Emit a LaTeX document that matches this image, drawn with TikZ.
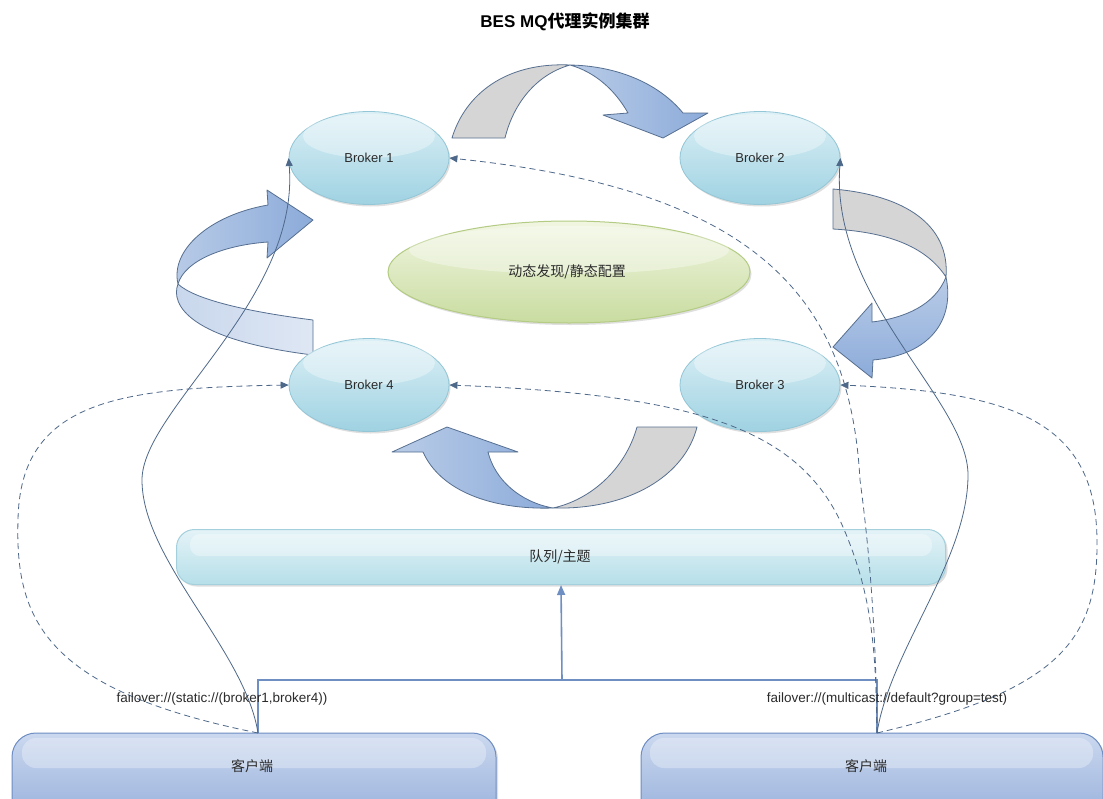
\documentclass[tikz,border=0pt]{standalone}
\usepackage{fontspec}
\setmainfont{Liberation Sans}
\newfontfamily\cjk{Noto Sans CJK SC}
\usetikzlibrary{arrows.meta,shapes.geometric,shadows,calc}
\definecolor{brTop}{HTML}{DCF0F6}
\definecolor{brBot}{HTML}{9FD2E2}
\definecolor{brLine}{HTML}{93C6D6}
\definecolor{grTop}{HTML}{F1F6E2}
\definecolor{grBot}{HTML}{C9DCA0}
\definecolor{grLine}{HTML}{B3CB82}
\definecolor{qTop}{HTML}{E4F3F7}
\definecolor{qBot}{HTML}{B6DFE9}
\definecolor{qLine}{HTML}{A3D0DC}
\definecolor{clTop}{HTML}{CBD8EF}
\definecolor{clBot}{HTML}{8AA6D6}
\definecolor{clLine}{HTML}{6E8DC3}
\definecolor{arGray}{HTML}{D5D5D5}
\definecolor{arBlueA}{HTML}{B9CCE7}
\definecolor{arBlueB}{HTML}{8CABDA}
\definecolor{arLight}{HTML}{DFE7F4}
\definecolor{arLine}{HTML}{566F90}
\definecolor{conn}{HTML}{4E6889}
\definecolor{busc}{HTML}{6F8FC2}
\definecolor{txt}{HTML}{2B2B2B}
\tikzset{
  broker/.style={ellipse, minimum width=160pt, minimum height=93pt, top color=brTop, bottom color=brBot, draw=brLine, line width=0.8pt, drop shadow={shadow xshift=1.5pt, shadow yshift=-2pt, opacity=0.25}},
  brokertext/.style={font=\fontsize{13}{15}\selectfont, text=txt},
  hilite/.style={fill=white, opacity=0.35},
  center/.style={ellipse, minimum width=362pt, minimum height=102pt, top color=grTop, bottom color=grBot, draw=grLine, line width=1pt, drop shadow={shadow xshift=1.5pt, shadow yshift=-2pt, opacity=0.25}},
  queue/.style={rectangle, rounded corners=18pt, minimum width=769pt, minimum height=55pt, top color=qTop, bottom color=qBot, draw=qLine, line width=1pt, drop shadow={shadow xshift=2pt, shadow yshift=-2pt, opacity=0.25}},
  client/.style={rectangle, rounded corners=24pt, minimum height=110pt, top color=clTop, bottom color=clBot, draw=clLine, line width=1pt, drop shadow={shadow xshift=2pt, shadow yshift=-2pt, opacity=0.25}},
  cjklabel/.style={font=\cjk\fontsize{14}{16}\selectfont, text=txt},
  urllabel/.style={font=\fontsize{13.5}{15}\selectfont, text=txt, inner sep=0pt},
  grayPart/.style={fill=arGray, draw=arLine, line width=0.8pt, line join=round},
  bluePart/.style={left color=arBlueA, right color=arBlueB, draw=arLine, line width=0.8pt, line join=round},
  bluePartV/.style={top color=arBlueA, bottom color=arBlueB, draw=arLine, line width=0.8pt, line join=round},
  lightPart/.style={left color=arBlueA!80!white, right color=arLight, draw=arLine, line width=0.8pt, line join=round},
  tipstyle/.style={-{Triangle[length=8pt,width=7pt]}},
  solidc/.style={draw=conn, line width=0.8pt, tipstyle, color=conn},
  dashc/.style={draw=conn, line width=0.8pt, dash pattern=on 6pt off 4pt, tipstyle, color=conn},
  bus/.style={draw=busc, line width=1.6pt},
}
\begin{document}
\begin{tikzpicture}[x=1pt,y=-1pt]
\useasboundingbox (0,0) rectangle (1103,798);
\fill[white] (0,0) rectangle (1103,798);

% title
\node (title) at (565,22) {\fontsize{17}{19}\selectfont\bfseries BES MQ{\cjk 代理实例集群}};

% block arrows
% top
\path[grayPart] (452,138) .. controls (465,95) and (505,62) .. (570,65) .. controls (535,75) and (513,105) .. (505,138) -- cycle;
\path[bluePart] (570,65) .. controls (620,66) and (660,85) .. (683,113) -- (708,113) -- (663,138) -- (603,115) -- (628,113) .. controls (615,90) and (595,72) .. (570,65) -- cycle;
% left
\path[lightPart] (313,320) .. controls (250,312) and (195,300) .. (178,284) .. controls (170,305) and (190,340) .. (313,355) -- cycle;
\path[bluePart] (178,284) .. controls (170,250) and (210,215) .. (268,205) -- (267,190) -- (313,220) -- (267,258) -- (268,242) .. controls (225,245) and (185,260) .. (178,284) -- cycle;
% right
\path[grayPart] (833,189) .. controls (905,195) and (950,225) .. (946,277) .. controls (925,245) and (885,232) .. (833,229) -- cycle;
\path[bluePartV] (946,277) .. controls (955,320) and (930,355) .. (873,360) -- (872,378) -- (833,347) -- (872,303) -- (872,322) .. controls (905,318) and (935,305) .. (946,277) -- cycle;
% bottom
\path[grayPart] (637,427) .. controls (625,470) and (590,500) .. (553,508) .. controls (630,510) and (685,475) .. (697,427) -- cycle;
\path[bluePart] (553,508) .. controls (490,510) and (440,490) .. (423,452) -- (392,452) -- (447,427) -- (518,452) -- (488,452) .. controls (495,480) and (520,502) .. (553,508) -- cycle;

% brokers
\node[broker] (b1) at (369,158) {};
\node[broker] (b2) at (760,158) {};
\node[broker] (b3) at (760,385) {};
\node[broker] (b4) at (369,385) {};
\foreach \b in {b1,b2,b3,b4}{
  \fill[hilite] ($(\b.center)+(0,-22)$) ellipse [x radius=66pt, y radius=22pt];
}
\node[brokertext] (b1t) at (b1.center) {Broker 1};
\node[brokertext] (b2t) at (b2.center) {Broker 2};
\node[brokertext] (b3t) at (b3.center) {Broker 3};
\node[brokertext] (b4t) at (b4.center) {Broker 4};

% center ellipse
\node[center] (disc) at (569,272) {};
\fill[white, opacity=0.35] ($(disc.center)+(0,-22)$) ellipse [x radius=160pt, y radius=24pt];
\node[cjklabel] (disct) at (567,272) {动态发现/静态配置};

% queue
\node[queue] (queue) at (561,557) {};
\fill[white, opacity=0.35, rounded corners=10pt] (190,534) rectangle (932,556);
\node[cjklabel] (queuet) at (560,557) {队列/主题};

% clients
\begin{scope}
\clip (0,0) rectangle (1103,798);
\node[client, minimum width=484pt] (cl1) at (254,788) {};
\node[client, minimum width=462pt] (cl2) at (872,788) {};
\fill[white, opacity=0.3, rounded corners=14pt] (22,738) rectangle (486,768);
\fill[white, opacity=0.3, rounded corners=14pt] (650,738) rectangle (1093,768);
\end{scope}
\node[cjklabel] (cl1t) at (252,766) {客户端};
\node[cjklabel] (cl2t) at (866,766) {客户端};

% connection points
\coordinate (c1) at (258,733);
\coordinate (c2) at (877,733);
\coordinate (busL) at (258,680);
\coordinate (busR) at (877,680);
\coordinate (busM) at (562,680);

% bus
\draw[bus] (c1) -- (busL) -- (busR) -- (c2);
\draw[bus, -{Triangle[length=10pt,width=8pt]}] (busM) -- (queue.south);

% connectors left client
\draw[solidc] (c1) .. controls (245,650) and (142,560) .. (142,480) .. controls (142,410) and (300,300) .. (b1.west);
\draw[dashc] (c1) .. controls (45,690) and (15,620) .. (18,520) .. controls (20,400) and (120,388) .. (b4.west);

% connectors right client
\draw[solidc] (c2) .. controls (890,650) and (968,560) .. (968,475) .. controls (968,400) and (830,300) .. (b2.east);
\draw[dashc] (c2) .. controls (1060,690) and (1098,640) .. (1097,540) .. controls (1096,420) and (1010,392) .. (b3.east);
\draw[dashc] (c2) .. controls (876,620) and (868,540) .. (860,480) .. controls (850,300) and (760,190) .. (b1.east);
\draw[dashc] (c2) .. controls (876,640) and (870,590) .. (843,527) .. controls (800,430) and (700,395) .. (b4.east);

% labels
\node[urllabel] (lab1) at (222,699) {failover://(static://(broker1,broker4))};
\node[urllabel] (lab2) at (887,699) {failover://(multicast://default?group=test)};
\end{tikzpicture}
\end{document}
